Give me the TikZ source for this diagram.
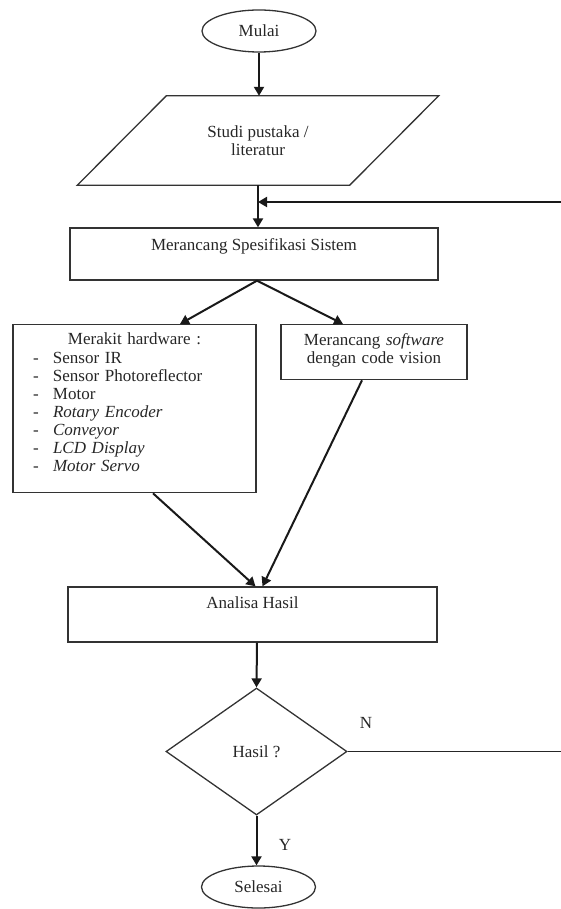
\documentclass[tikz,border=0pt]{standalone}
\usepackage{fontspec}
\setmainfont{Liberation Serif}
\usetikzlibrary{shapes.geometric,arrows.meta,calc}
\begin{document}
\begin{tikzpicture}[x=1pt,y=-1pt,
  every node/.style={font=\fontsize{17pt}{18pt}\selectfont, text=black!85},
  outline/.style={draw=black!80, line width=1.3pt},
  box/.style={outline, rectangle, inner sep=0pt},
  term/.style={outline, ellipse, minimum width=114pt, minimum height=42pt, inner sep=0pt},
  arr/.style={draw=black!90, line width=2pt, -{Triangle[length=9pt,width=10pt]}},
  plainline/.style={draw=black!85, line width=1.5pt}]
\useasboundingbox (0,0) rectangle (561,909);
% nodes
\node[term] (mulai) at (259,31) {Mulai};
\node[minimum width=272pt, minimum height=89pt, inner sep=0pt, align=center] (studi) at (258,140.5) {Studi pustaka /\\literatur};
\draw[outline] ([xshift=44.5pt]studi.north west) -- ([xshift=44.5pt]studi.north east) -- ([xshift=-44.5pt]studi.south east) -- ([xshift=-44.5pt]studi.south west) -- cycle;
\node[box, minimum width=368pt, text height=23pt, text depth=29pt] (spek) at (254,254) {Merancang Spesifikasi Sistem};
\node[box, anchor=north, text width=243pt, align=left, text height=20pt, text depth=148pt] (hw) at (134.5,324) {%
\makebox[243pt][c]{Merakit hardware :}\\[1pt]
\hspace*{20pt}\makebox[20pt][l]{-}Sensor IR\\
\hspace*{20pt}\makebox[20pt][l]{-}Sensor Photoreflector\\
\hspace*{20pt}\makebox[20pt][l]{-}Motor\\
\hspace*{20pt}\makebox[20pt][l]{-}\textit{Rotary Encoder}\\
\hspace*{20pt}\makebox[20pt][l]{-}\textit{Conveyor}\\
\hspace*{20pt}\makebox[20pt][l]{-}\textit{LCD Display}\\
\hspace*{20pt}\makebox[20pt][l]{-}\textit{Motor Servo}};
\node[box, anchor=north, text width=186pt, align=center, text height=21pt, text depth=34pt] (sw) at (374,324) {Merancang \textit{software}\\dengan code vision};
\node[box, minimum width=369pt, text height=21pt, text depth=34pt] (ana) at (252.5,614.5) {Analisa Hasil};
\node[outline, diamond, minimum width=181pt, minimum height=127pt, inner sep=0pt] (hasil) at (256.5,751.5) {Hasil ?};
\node[term] (selesai) at (258.5,887) {Selesai};
\node (nlab) at (366,723) {N};
\node (ylab) at (285,845) {Y};
\coordinate (fb) at (561,202);
\coordinate (nr) at (561,751.5);
% connectors
\draw[arr] (mulai.south) -- (mulai.south |- studi.north);
\draw[arr] (studi.south) -- (studi.south |- spek.north);
\draw[arr] (fb) -- (fb -| studi.south);
\draw[arr] ([xshift=3pt]spek.south) -- ([xshift=45.5pt]hw.north);
\draw[arr] ([xshift=3pt]spek.south) -- ([xshift=-31pt]sw.north);
\draw[arr] ([xshift=18.5pt]hw.south) -- ([xshift=3pt]ana.north);
\draw[arr] ([xshift=-12pt]sw.south) -- ([xshift=10pt]ana.north);
\draw[arr] ([xshift=4.5pt]ana.south) -- (hasil.north);
\draw[plainline] (hasil.east) -- (nr);
\draw[arr] (hasil.south) -- (hasil.south |- selesai.north);
\end{tikzpicture}
\end{document}
